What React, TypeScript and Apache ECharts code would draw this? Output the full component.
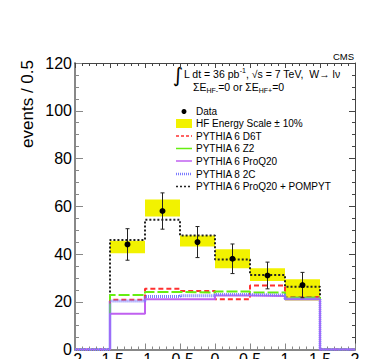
import React, { useEffect, useRef } from "react";
import * as echarts from "echarts";

const binEdges = [-1.5, -1, -0.5, 0, 0.5, 1, 1.5];
const dataValues = [44, 58, 45, 38, 31, 27];
const dataErrors = [6.6, 7.6, 6.5, 6.2, 5.6, 5.3];
const bandLow = [40.3, 55.7, 43.1, 34.0, 28.7, 20.5];
const bandHigh = [45.6, 62.8, 47.7, 42.0, 34.0, 29.4];
const pompyt = [45.9, 54.3, 47.7, 37.7, 31.2, 26.3];
const d6t = [20.8, 25.4, 24.5, 21.0, 26.8, 22.0];
const z2 = [22.8, 24.1, 23.9, 24.3, 23.9, 21.8];
const proq20 = [15.0, 21.0, 21.0, 22.6, 22.4, 21.0];
const p8_2c = [20.3, 22.2, 22.5, 23.0, 22.8, 21.3];
const xTicks = ["-2", "-1.5", "-1", "-0.5", "0", "0.5", "1", "1.5", "2"];
const yTicks = ["0", "20", "40", "60", "80", "100", "120"];

const FONT = "'Liberation Sans', Arial, Helvetica, sans-serif";

function stepPoints(vals: number[]) {
  const pts: number[][] = [[-2, 0], [binEdges[0], 0]];
  vals.forEach((v, i) => {
    pts.push([binEdges[i], v]);
    pts.push([binEdges[i + 1], v]);
  });
  pts.push([binEdges[binEdges.length - 1], 0]);
  pts.push([2, 0]);
  return pts;
}

const mcSeries = [
  { name: "PYTHIA 6 ProQ20 + POMPYT", vals: pompyt, color: "#222222", width: 2, dash: [2, 2] },
  { name: "PYTHIA 6 D6T", vals: d6t, color: "#ff3030", width: 2, dash: [5, 3] },
  { name: "PYTHIA 6 Z2", vals: z2, color: "#66ee11", width: 2, dash: [11, 3] },
  { name: "PYTHIA 6 ProQ20", vals: proq20, color: "#c060f0", width: 2, dash: null },
  { name: "PYTHIA 8 2C", vals: p8_2c, color: "#7b7bff", width: 3, dash: [1, 1] },
];

const legendLines = [
  { name: "PYTHIA 6 D6T", color: "#ff3030", width: 1.5, dash: [3, 2] },
  { name: "PYTHIA 6 Z2", color: "#66ee11", width: 1.5, dash: null },
  { name: "PYTHIA 6 ProQ20", color: "#c060f0", width: 1.5, dash: null },
  { name: "PYTHIA 8 2C", color: "#7b7bff", width: 2.5, dash: [1, 1] },
  { name: "PYTHIA 6 ProQ20 + POMPYT", color: "#222222", width: 1.5, dash: [2, 2] },
];

export default function App() {
  const ref = useRef<HTMLDivElement>(null);
  useEffect(() => {
    if (!ref.current) return;
    const chart = echarts.init(ref.current, undefined, { renderer: "svg" });

    const bandData = bandLow.map((lo, i) => [binEdges[i], binEdges[i + 1], lo, bandHigh[i]]);
    const pointData = dataValues.map((v, i) => [(binEdges[i] + binEdges[i + 1]) / 2, v, dataErrors[i]]);

    const axisCommonX = {
      type: "value",
      min: -2,
      max: 2,
      interval: 0.5,
      splitLine: { show: false },
    };
    const axisCommonY = {
      type: "value",
      min: 0,
      max: 120,
      interval: 20,
      splitLine: { show: false },
    };

    const legendGraphics: any[] = [];
    const lx0 = 176, lx1 = 192, tx = 196;
    const rowY = [111.5, 123.5, 136, 148.5, 161, 174, 186.5];
    legendGraphics.push({ type: "circle", shape: { cx: 184, cy: rowY[0], r: 2.5 }, style: { fill: "#000" } });
    legendGraphics.push({ type: "rect", shape: { x: lx0, y: rowY[1] - 4.5, width: lx1 - lx0, height: 9 }, style: { fill: "#f2f200" } });
    legendLines.forEach((l, i) => {
      legendGraphics.push({
        type: "line",
        shape: { x1: lx0, y1: rowY[i + 2], x2: lx1, y2: rowY[i + 2] },
        style: { stroke: l.color, lineWidth: l.width, lineDash: l.dash || undefined },
      });
    });
    const legendNames = ["Data", "HF Energy Scale \u00b1 10%", ...legendLines.map((l) => l.name)];
    legendNames.forEach((n, i) => {
      legendGraphics.push({
        type: "text",
        x: tx,
        y: rowY[i],
        style: { text: n, fontSize: 10, fontFamily: FONT, fill: "#000", align: "left", verticalAlign: "middle" },
      });
    });

    chart.setOption({
      animation: false,
      grid: { left: 75, right: 19, top: 63, bottom: 9.5, containLabel: false, outerBoundsMode: "none" },
      xAxis: [
        {
          ...axisCommonX,
          position: "bottom",
          axisLine: { onZero: false, lineStyle: { color: "#888", width: 2 } },
          axisTick: { inside: true, length: 6, lineStyle: { color: "#888" } },
          minorTick: { show: true, splitNumber: 5, length: 3, lineStyle: { color: "#888" } },
          axisLabel: {
            margin: 2,
            fontSize: 16,
            fontFamily: FONT,
            color: "#000",
            formatter: (v: number) => xTicks[Math.round((v + 2) / 0.5)] ?? "",
          },
        },
        {
          ...axisCommonX,
          position: "top",
          axisLine: { onZero: false, lineStyle: { color: "#444", width: 1 } },
          axisTick: { inside: true, length: 5, lineStyle: { color: "#444" } },
          minorTick: { show: true, splitNumber: 5, length: 3, lineStyle: { color: "#444" } },
          axisLabel: { show: false },
        },
      ],
      yAxis: [
        {
          ...axisCommonY,
          position: "left",
          axisLine: { show: true, onZero: false, lineStyle: { color: "#888", width: 2 } },
          axisTick: { show: true, inside: true, length: 8, lineStyle: { color: "#888" } },
          minorTick: { show: true, splitNumber: 4, length: 4, lineStyle: { color: "#888" } },
          axisLabel: {
            margin: 3,
            fontSize: 16,
            fontFamily: FONT,
            color: "#000",
            formatter: (v: number) => yTicks[Math.round(v / 20)] ?? "",
          },
        },
        {
          ...axisCommonY,
          position: "right",
          axisLine: { show: true, onZero: false, lineStyle: { color: "#444", width: 1 } },
          axisTick: { show: true, inside: true, length: 6, lineStyle: { color: "#444" } },
          minorTick: { show: true, splitNumber: 4, length: 3, lineStyle: { color: "#444" } },
          axisLabel: { show: false },
        },
      ],
      series: [
        {
          type: "custom",
          name: "HF Energy Scale \u00b1 10%",
          z: 1,
          data: bandData,
          renderItem: (params: any, api: any) => {
            const p0 = api.coord([api.value(0), api.value(3)]);
            const p1 = api.coord([api.value(1), api.value(2)]);
            return {
              type: "rect",
              shape: { x: p0[0], y: p0[1], width: p1[0] - p0[0], height: p1[1] - p0[1] },
              style: { fill: "#f2f200" },
            };
          },
        },
        ...mcSeries.map((s, i) => ({
          type: "line",
          name: s.name,
          z: 2 + i,
          data: stepPoints(s.vals),
          showSymbol: false,
          symbol: "none",
          lineStyle: { color: s.color, width: s.width, type: s.dash || "solid" },
        })),
        {
          type: "custom",
          name: "Data",
          z: 10,
          data: pointData,
          renderItem: (params: any, api: any) => {
            const x = api.value(0), y = api.value(1), e = api.value(2);
            const c = api.coord([x, y]);
            const top = api.coord([x, y + e]);
            const bot = api.coord([x, y - e]);
            const st = { stroke: "#222", lineWidth: 1 };
            return {
              type: "group",
              children: [
                { type: "line", shape: { x1: c[0], y1: top[1], x2: c[0], y2: bot[1] }, style: st },
                { type: "line", shape: { x1: c[0] - 2, y1: top[1], x2: c[0] + 2, y2: top[1] }, style: st },
                { type: "line", shape: { x1: c[0] - 2, y1: bot[1], x2: c[0] + 2, y2: bot[1] }, style: st },
                { type: "circle", shape: { cx: c[0], cy: c[1], r: 3 }, style: { fill: "#000" } },
              ],
            };
          },
        },
      ],
      graphic: [
        {
          type: "text",
          x: 27,
          y: 60,
          rotation: Math.PI / 2,
          style: { text: "events / 0.5", fontSize: 17, fontFamily: FONT, fill: "#000", align: "right", verticalAlign: "middle" },
        },
        {
          type: "text",
          x: 354,
          y: 56,
          style: { text: "CMS", fontSize: 9.5, fontFamily: FONT, fill: "#000", align: "right", verticalAlign: "middle" },
        },
        {
          type: "text",
          x: 178,
          y: 75,
          style: { text: "\u222b", fontSize: 20, fontFamily: "'DejaVu Sans', sans-serif", fill: "#000", align: "center", verticalAlign: "middle" },
        },
        {
          type: "text",
          x: 184,
          y: 74,
          style: {
            text: "L dt = 36 pb{sup|-1}, \u221as = 7 TeV,  W\u2192 l\u03bd",
            fontSize: 10.5,
            fontFamily: FONT,
            fill: "#000",
            align: "left",
            verticalAlign: "middle",
            lineHeight: 14,
            rich: { sup: { fontSize: 7, fontFamily: FONT, verticalAlign: "top", lineHeight: 8 } },
          },
        },
        {
          type: "text",
          x: 193,
          y: 87,
          style: {
            text: "\u03a3E{sub|HF-}=0 or \u03a3E{sub|HF+}=0",
            fontSize: 10.5,
            fontFamily: FONT,
            fill: "#000",
            align: "left",
            verticalAlign: "middle",
            lineHeight: 14,
            rich: { sub: { fontSize: 7, fontFamily: FONT, verticalAlign: "bottom", lineHeight: 8 } },
          },
        },
        ...legendGraphics,
      ],
    });
    return () => chart.dispose();
  }, []);
  return <div ref={ref} style={{ position: "absolute", left: 0, top: 0, width: 374, height: 359 }} />;
}
